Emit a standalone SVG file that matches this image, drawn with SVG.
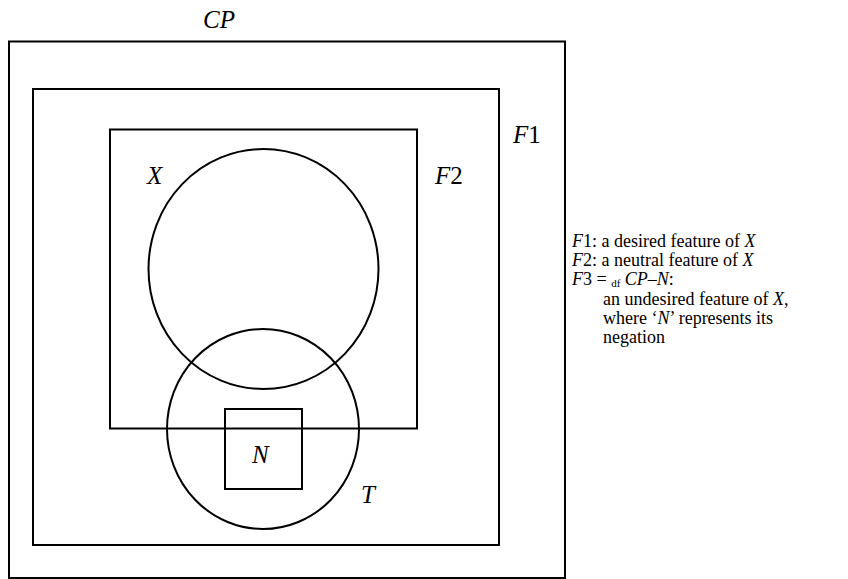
<svg xmlns="http://www.w3.org/2000/svg" width="848" height="579" viewBox="0 0 848 579">
<style>
.s{fill:none;stroke:#000;stroke-width:2}
.lab{font-family:"Liberation Serif","Times New Roman",serif;font-style:italic;font-size:25px;fill:#000}
.leg{font-family:"Liberation Serif","Times New Roman",serif;font-size:18px;fill:#000}
.i{font-style:italic}
</style>
<rect width="848" height="579" fill="#fff"/>
<g id="CP">
<rect class="s" x="9" y="41.5" width="556" height="536.5"/>
<text class="lab" x="203" y="28">CP</text>
</g>
<g id="F1">
<rect class="s" x="33" y="89" width="466" height="456"/>
<text class="lab" x="513" y="143">F<tspan font-style="normal">1</tspan></text>
</g>
<g id="F2">
<rect class="s" x="110" y="129.5" width="307" height="299"/>
<text class="lab" x="435" y="184">F<tspan font-style="normal">2</tspan></text>
</g>
<g id="X">
<ellipse class="s" cx="263.5" cy="269" rx="115" ry="120"/>
<text class="lab" x="147" y="184">X</text>
</g>
<g id="T">
<ellipse class="s" cx="263" cy="429" rx="96" ry="100"/>
<text class="lab" x="361" y="503">T</text>
</g>
<g id="N">
<rect class="s" x="225" y="409" width="77" height="80"/>
<text class="lab" x="252" y="463">N</text>
</g>
<g id="connectors"></g>
<g id="legend" class="leg">
<text x="572" y="247"><tspan class="i">F</tspan>1: a desired feature of <tspan class="i">X</tspan></text>
<text x="572" y="266"><tspan class="i">F</tspan>2: a neutral feature of <tspan class="i">X</tspan></text>
<text x="572" y="285"><tspan class="i">F</tspan>3 = <tspan font-size="11" dy="2">df</tspan><tspan dy="-2"> </tspan><tspan class="i">CP</tspan>–<tspan class="i">N</tspan>:</text>
<text x="603" y="305">an undesired feature of <tspan class="i">X</tspan>,</text>
<text x="603" y="324">where ‘<tspan class="i">N</tspan>’ represents its</text>
<text x="603" y="343">negation</text>
</g>
</svg>
